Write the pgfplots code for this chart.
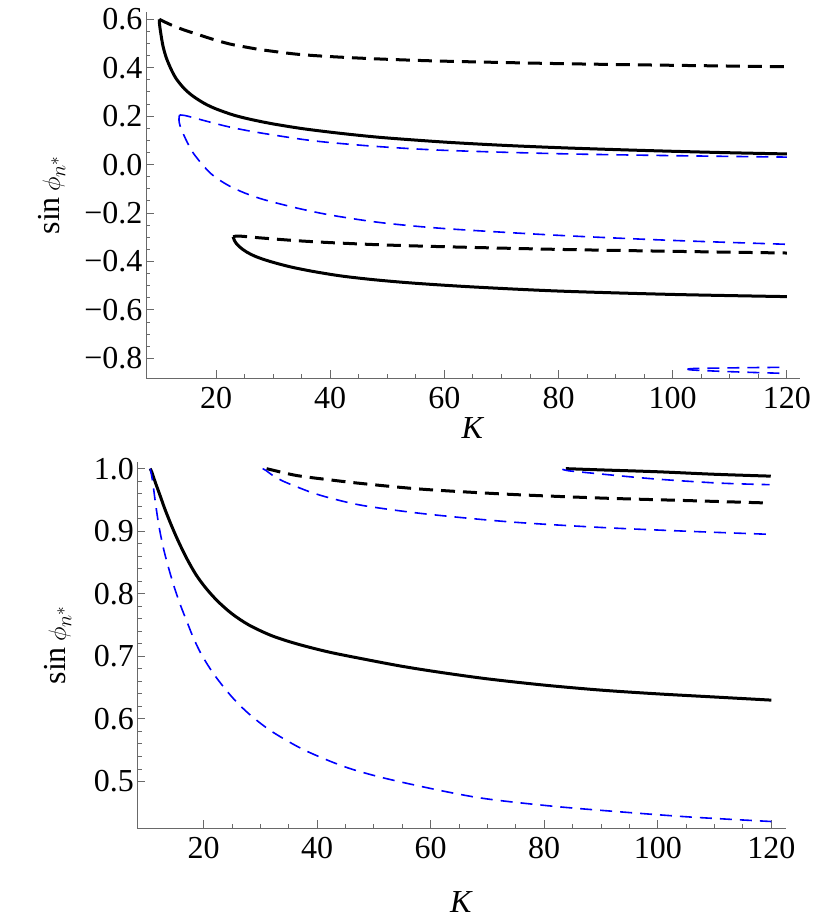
\documentclass[border=0pt]{standalone}
\usepackage{fontspec}
\setmainfont{Liberation Serif}
\usepackage{pgfplots}
\pgfplotsset{compat=1.18}
\definecolor{mblue}{RGB}{0,0,255}
\definecolor{axgray}{RGB}{105,105,105}
\pgfplotsset{
  mstyle/.style={
    scale only axis,
    axis x line=bottom, axis y line=left,
    axis line style={axgray, line width=1pt, -},
    tick style={axgray, line width=0.9pt},
    tick align=inside,
    major tick length=8pt, minor tick length=4.5pt,
    every tick label/.append style={font=\fontsize{32}{34}\selectfont, black},
    xticklabel style={yshift=-6pt},
    label style={font=\fontsize{32}{34}\selectfont},
    /pgf/number format/assume math mode=true,
    xtick={20,40,...,120}, minor x tick num=3,
    xlabel={\textit{K}},
    ylabel={sin\,$\phi_{n^{*}}$},
    clip=false,
  },
  bsolid/.style={black, line width=3pt, smooth},
  bdash/.style={black, line width=3pt, dash pattern=on 14pt off 8pt, smooth},
  bldash/.style={mblue, line width=1.6pt, dash pattern=on 12pt off 8pt, smooth},
}
\begin{document}
\begin{tikzpicture}
\path[use as bounding box] (0,0) rectangle (830pt,-921pt);
% ---------------- top panel ----------------
\begin{axis}[mstyle,
  at={(146pt,-378pt)}, anchor=south west,
  width=654pt, height=366pt,
  xmin=7.73, xmax=122.3, ymin=-0.881, ymax=0.63,
  ytick={-0.8,-0.6,...,0.61}, minor y tick num=3,
  yticklabels={−0.8,−0.6,−0.4,−0.2,0.0,0.2,0.4,0.6},
  ylabel style={at={(axis description cs:-0.1437,0.5)}, anchor=center},
  xlabel style={at={(axis description cs:0.5,0)}, anchor=center, yshift=-50pt},
]
% black solid upper
\addplot[bsolid] coordinates {
(10.05,0.600)(10.1,0.580)(10.3,0.545)(10.7,0.490)(11.3,0.440)(12.2,0.390)(13.1,0.352)(14.5,0.312)(16,0.282)(18,0.252)(20,0.230)(23,0.205)(26,0.187)(30,0.168)(35,0.149)(40,0.134)(45,0.121)(50,0.110)(60,0.093)(70,0.080)(80,0.070)(90,0.062)(100,0.055)(110,0.049)(120,0.044)};
% black dashed upper
\addplot[bdash] coordinates {
(10.05,0.600)(11,0.589)(12.5,0.573)(14.5,0.555)(16.6,0.539)(19.5,0.517)(22.4,0.498)(25.5,0.484)(28.3,0.473)(34.1,0.456)(40,0.446)(48.7,0.436)(60,0.427)(80,0.417)(100,0.410)(120,0.404)};
% blue upper branch
\addplot[bldash] coordinates {
(13.6,0.205)(14.5,0.203)(16,0.194)(19,0.175)(22.4,0.155)(26.5,0.136)(31.2,0.118)(35.5,0.103)(40,0.091)(48.7,0.074)(60,0.059)(80,0.045)(100,0.037)(120,0.031)};
% blue lower branch
\addplot[bldash] coordinates {
(13.6,0.205)(13.5,0.185)(13.7,0.160)(14.3,0.125)(15,0.090)(16,0.048)(17.5,0.003)(19,-0.035)(20.5,-0.062)(22.4,-0.089)(25,-0.117)(28.3,-0.144)(34.1,-0.179)(40,-0.208)(48.7,-0.239)(60,-0.264)(80,-0.292)(100,-0.313)(120,-0.329)};
% black dashed lower
\addplot[bdash] coordinates {
(23.0,-0.298)(24,-0.295)(28,-0.303)(34.1,-0.314)(40,-0.322)(48.7,-0.331)(60,-0.339)(80,-0.350)(100,-0.358)(120,-0.365)};
% black solid lower
\addplot[bsolid] coordinates {
(23.0,-0.298)(23.2,-0.312)(23.6,-0.327)(24.3,-0.343)(25.3,-0.360)(27,-0.380)(29.5,-0.400)(33,-0.422)(37,-0.441)(42,-0.460)(48,-0.476)(55,-0.490)(65,-0.505)(80,-0.522)(100,-0.536)(120,-0.545)};
% tiny blue curves
\addplot[bldash] coordinates {
(102.6,-0.845)(103.5,-0.842)(108,-0.840)(114,-0.838)(119.8,-0.837)};
\addplot[bldash] coordinates {
(102.6,-0.845)(103.5,-0.848)(108,-0.853)(114,-0.858)(119.8,-0.862)};
\end{axis}
% ---------------- bottom panel ----------------
\begin{axis}[mstyle,
  at={(137.5pt,-828pt)}, anchor=south west,
  width=648pt, height=366pt,
  xmin=8.36, xmax=122.5, ymin=0.4256, ymax=1.0106,
  ytick={0.5,0.6,0.7,0.8,0.9,1.0}, minor y tick num=4,
  yticklabels={0.5,0.6,0.7,0.8,0.9,1.0},
  ylabel style={at={(axis description cs:-0.1227,0.5)}, anchor=center},
  xlabel style={at={(axis description cs:0.5,0)}, anchor=center, yshift=-74pt},
]
% black solid main
\addplot[bsolid] coordinates {
(10.6,1.000)(10.9,0.994)(11.5,0.978)(12.3,0.958)(13.2,0.935)(14.3,0.910)(15.5,0.885)(17,0.857)(18.7,0.830)(20.5,0.808)(22.5,0.788)(25,0.768)(28,0.750)(32,0.733)(36.4,0.720)(42,0.707)(48,0.696)(55,0.684)(62,0.674)(70,0.664)(80,0.654)(90,0.646)(100,0.640)(110,0.635)(120,0.630)};
% blue lower
\addplot[bldash] coordinates {
(10.6,1.000)(11.0,0.981)(11.6,0.940)(12.2,0.905)(13,0.870)(14,0.836)(15,0.806)(16,0.780)(17,0.757)(18,0.734)(19,0.714)(20,0.697)(22,0.669)(25,0.635)(28,0.608)(32,0.580)(37.8,0.550)(45,0.523)(52,0.505)(62,0.485)(70,0.472)(82,0.460)(94,0.451)(106,0.443)(120,0.436)};
% black dashed middle
\addplot[bdash] coordinates {
(31.1,1.000)(32,0.998)(36.4,0.989)(42.3,0.982)(48.1,0.976)(58.7,0.967)(73.8,0.959)(90,0.953)(105,0.949)(119.7,0.945)};
% blue middle
\addplot[bldash] coordinates {
(30.4,1.000)(31,0.997)(32.2,0.989)(34,0.980)(36.4,0.971)(39,0.962)(42.3,0.953)(48.1,0.941)(58.7,0.928)(73.8,0.915)(90,0.906)(105,0.900)(119.7,0.895)};
% black solid top
\addplot[bsolid] coordinates {
(83.8,1.000)(90,0.998)(100,0.995)(110,0.991)(119.9,0.988)};
% blue top
\addplot[bldash] coordinates {
(83.2,0.999)(84,0.997)(86.4,0.9946)(98.8,0.984)(110.6,0.977)(119.7,0.9744)};
\end{axis}
\end{tikzpicture}
\end{document}
